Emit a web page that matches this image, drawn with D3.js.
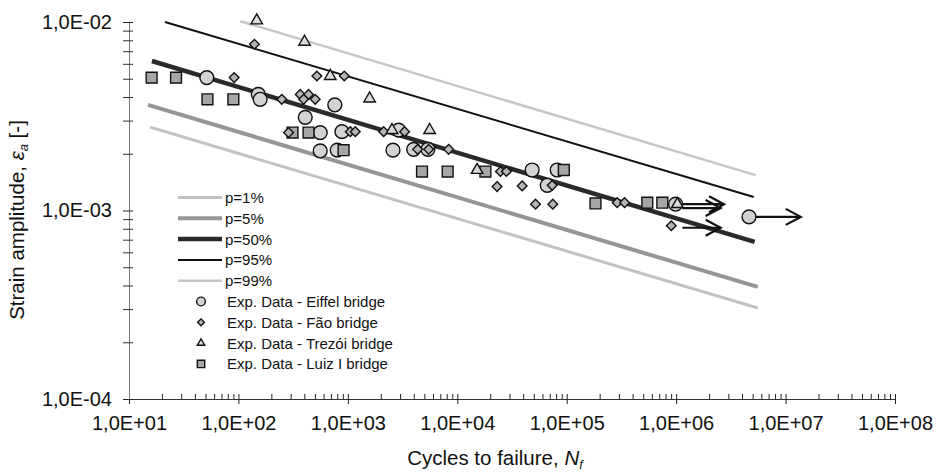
<!DOCTYPE html>
<html>
<head>
<meta charset="utf-8">
<script src="https://cdn.jsdelivr.net/npm/d3@7"></script>
<style>
  body { margin: 0; background: #fff; }
  svg text { font-family: "Liberation Sans", Arial, sans-serif; fill: #111; }
</style>
</head>
<body>
<svg id="chart" width="943" height="472"></svg>
<script>

// S-N quantile curves, read as end points [N, strain]
var curveNames = ["p=1%", "p=5%", "p=50%", "p=95%", "p=99%"];
var curveStart = [[15.6, 2.77e-3], [14.9, 3.63e-3], [16.2, 6.21e-3], [21.3, 1.0e-2], [104, 1.01e-2]];
var curveEnd   = [[5.57e6, 3.04e-4], [5.57e6, 3.93e-4], [5.22e6, 6.81e-4], [5.12e6, 1.18e-3], [5.33e6, 1.54e-3]];

// experimental points [N, strain]
var eiffelData = [[51.4, 5.07e-3], [152, 4.13e-3], [158, 3.89e-3], [760, 3.63e-3], [408, 3.12e-3],
  [559, 2.07e-3], [559, 2.59e-3], [883, 2.62e-3], [800, 2.09e-3], [2909, 2.67e-3], [2585, 2.09e-3],
  [3992, 2.11e-3], [5390, 2.11e-3], [48310, 1.64e-3], [81850, 1.64e-3], [66330, 1.36e-3],
  [988000, 1.08e-3], [4634000, 9.25e-4]];
var faoData = [[140, 7.62e-3], [91.4, 5.07e-3], [521, 5.17e-3], [927, 5.17e-3], [249, 3.89e-3],
  [367, 4.13e-3], [437, 4.13e-3], [394, 3.89e-3], [503, 3.89e-3], [287, 2.59e-3], [1052, 2.62e-3],
  [1169, 2.62e-3], [2124, 2.62e-3], [3300, 2.62e-3], [4341, 2.11e-3], [5474, 2.11e-3],
  [8341, 2.11e-3], [24780, 1.61e-3], [28110, 1.61e-3], [23110, 1.34e-3], [39170, 1.35e-3],
  [73660, 1.36e-3], [51870, 1.08e-3], [74610, 1.08e-3], [289500, 1.10e-3], [337900, 1.10e-3],
  [903000, 8.3e-4]];
var trezoiData = [[147, 1.0e-2], [402, 7.70e-3], [690, 5.07e-3], [1581, 3.85e-3], [2532, 2.62e-3],
  [5588, 2.62e-3], [15170, 1.61e-3], [1026000, 1.06e-3]];
var luizData = [[16.1, 5.07e-3], [26.9, 5.07e-3], [52.1, 3.89e-3], [89.9, 3.89e-3], [312, 2.59e-3],
  [437, 2.59e-3], [914, 2.09e-3], [4762, 1.61e-3], [8166, 1.61e-3], [18070, 1.61e-3],
  [94150, 1.64e-3], [183300, 1.09e-3], [545000, 1.10e-3], [747600, 1.10e-3]];

// run-out arrows [N from, N to, strain]
var runouts = [[1.14e6, 2.74e6, 1.08e-3], [1.14e6, 2.55e6, 1.03e-3], [1.14e6, 2.55e6, 8.1e-4],
  [5.33e6, 1.377e7, 9.25e-4]];

var seriesNames = ["Exp. Data - Eiffel bridge", "Exp. Data - Fão bridge",
  "Exp. Data - Trezói bridge", "Exp. Data - Luiz I bridge"];
var xTickValues = [1e1, 1e2, 1e3, 1e4, 1e5, 1e6, 1e7, 1e8];
var yTickValues = [1e-4, 1e-3, 1e-2];

var curveStyle = [
  {color: "#c2c2c2", width: 3},
  {color: "#959595", width: 4},
  {color: "#2a2a2a", width: 4.5},
  {color: "#111", width: 2},
  {color: "#c6c6c6", width: 2.5}
];
var markerFill = ["#d2d2d2", "#b5b5b5", "#dadada", "#a6a6a6"];

var svg = d3.select("#chart");

var x = d3.scaleLog().domain([1e1, 1e8]).range([129, 895]);
var y = d3.scaleLog().domain([1e-4, 1e-2]).range([399, 22]);

function sciLabel(v) {
  var e = Math.round(Math.log10(v));
  var s = Math.abs(e) < 10 ? "0" + Math.abs(e) : "" + Math.abs(e);
  return "1,0E" + (e < 0 ? "-" : "+") + s;
}

var minorX = x.ticks().filter(function(d) { return xTickValues.indexOf(d) < 0; });
var minorY = y.ticks().filter(function(d) { return yTickValues.map(function(v){return v.toPrecision(3);}).indexOf(d.toPrecision(3)) < 0; });

// x axis
var gx = svg.append("g")
    .attr("class", "axis axis--x")
    .attr("transform", "translate(0,399)")
    .call(d3.axisBottom(x).tickValues(xTickValues).tickFormat(sciLabel).tickSizeInner(5).tickSizeOuter(0).tickPadding(12));
gx.selectAll(".tick line").attr("y1", -5).attr("stroke", "#222");
gx.select(".domain").attr("stroke", "#333");
gx.selectAll("text").attr("font-size", 20).attr("font-family", "Liberation Sans, Arial, sans-serif").attr("fill", "#111");

svg.append("g")
    .attr("class", "axis axis--x-minor")
    .attr("transform", "translate(0,399)")
    .call(d3.axisBottom(x).tickValues(minorX).tickFormat("").tickSize(-5))
  .call(function(g) { g.select(".domain").remove(); })
  .selectAll(".tick line").attr("stroke", "#222");

// y axis
var gy = svg.append("g")
    .attr("class", "axis axis--y")
    .attr("transform", "translate(129,0)")
    .call(d3.axisLeft(y).tickValues(yTickValues).tickFormat(sciLabel).tickSizeInner(6).tickSizeOuter(0).tickPadding(11));
gy.selectAll(".tick line").attr("x1", 4).attr("stroke", "#222");
gy.select(".domain").attr("stroke", "#777");
gy.selectAll("text").attr("font-size", 20).attr("font-family", "Liberation Sans, Arial, sans-serif").attr("fill", "#111");

svg.append("g")
    .attr("class", "axis axis--y-minor")
    .attr("transform", "translate(129,0)")
    .call(d3.axisLeft(y).tickValues(minorY).tickFormat("").tickSize(6))
  .call(function(g) { g.select(".domain").remove(); })
  .selectAll(".tick line").attr("x1", 4).attr("stroke", "#333");

// axis titles
var xt = svg.append("text")
    .attr("x", 495).attr("y", 465)
    .attr("text-anchor", "middle")
    .attr("font-size", 20.5);
xt.append("tspan").text("Cycles to failure, ");
xt.append("tspan").attr("font-style", "italic").text("N");
xt.append("tspan").attr("font-style", "italic").attr("font-size", 13).attr("dy", 4).text("f");

var yt = svg.append("text")
    .attr("transform", "translate(24,220) rotate(-90)")
    .attr("text-anchor", "middle")
    .attr("font-size", 20.5);
yt.append("tspan").text("Strain amplitude, ");
yt.append("tspan").attr("font-style", "italic").text("ε");
yt.append("tspan").attr("font-style", "italic").attr("font-size", 13).attr("dy", 4).text("a");
yt.append("tspan").attr("dy", -4).text(" [-]");

// quantile curves
var line = d3.line()
    .x(function(d) { return x(d[0]); })
    .y(function(d) { return y(d[1]); });

svg.append("g").attr("class", "curves")
  .selectAll("path")
  .data(curveNames)
  .enter().append("path")
    .attr("d", function(d, i) { return line([curveStart[i], curveEnd[i]]); })
    .attr("fill", "none")
    .attr("stroke", function(d, i) { return curveStyle[i].color; })
    .attr("stroke-width", function(d, i) { return curveStyle[i].width; });

// markers
var symbols = [
  d3.symbol().type(d3.symbolCircle).size(150),
  d3.symbol().type(d3.symbolDiamond2).size(60),
  d3.symbol().type(d3.symbolTriangle2).size(95),
  d3.symbol().type(d3.symbolSquare2).size(150)
];
var allData = [eiffelData, faoData, trezoiData, luizData];
var drawOrder = [0, 3, 1, 2];

drawOrder.forEach(function(k) {
  svg.append("g").attr("class", "series series-" + k)
    .selectAll("path")
    .data(allData[k])
    .enter().append("path")
      .attr("transform", function(d) {
        var dy = k === 2 ? 1.5 : 0;
        return "translate(" + x(d[0]) + "," + (y(d[1]) - dy) + ")";
      })
      .attr("d", symbols[k])
      .attr("fill", markerFill[k])
      .attr("stroke", "#111")
      .attr("stroke-width", 1.4);
});

// run-out arrows
var arrows = svg.append("g").attr("class", "runouts")
  .selectAll("g")
  .data(runouts)
  .enter().append("g");
arrows.append("line")
    .attr("x1", function(d) { return x(d[0]); })
    .attr("x2", function(d) { return x(d[1]); })
    .attr("y1", function(d) { return y(d[2]); })
    .attr("y2", function(d) { return y(d[2]); })
    .attr("stroke", "#111").attr("stroke-width", 2.2);
arrows.append("path")
    .attr("d", function(d) {
      var ex = x(d[1]), ey = y(d[2]);
      return "M" + (ex - 15) + "," + (ey - 8) + "L" + ex + "," + ey + "L" + (ex - 15) + "," + (ey + 8);
    })
    .attr("fill", "none").attr("stroke", "#111").attr("stroke-width", 2.2);

// legend
var legend = svg.append("g").attr("class", "legend");
var rowH = 20.8, top0 = 197.5;

var lrow = legend.selectAll(".lrow")
  .data(curveNames)
  .enter().append("g")
    .attr("class", "lrow")
    .attr("transform", function(d, i) { return "translate(0," + (top0 + i * rowH) + ")"; });
lrow.append("line")
    .attr("x1", 178).attr("x2", 222)
    .attr("stroke", function(d, i) { return curveStyle[i].color; })
    .attr("stroke-width", function(d, i) { return curveStyle[i].width; });
lrow.append("text")
    .attr("x", 225).attr("dy", "0.36em")
    .attr("font-size", 15)
    .text(function(d) { return d; });

var smallSymbols = [
  d3.symbol().type(d3.symbolCircle).size(60),
  d3.symbol().type(d3.symbolDiamond2).size(30),
  d3.symbol().type(d3.symbolTriangle2).size(40),
  d3.symbol().type(d3.symbolSquare2).size(70)
];
var mrow = legend.selectAll(".mrow")
  .data(seriesNames)
  .enter().append("g")
    .attr("class", "mrow")
    .attr("transform", function(d, i) { return "translate(0," + (top0 + (i + 5) * rowH) + ")"; });
mrow.append("path")
    .attr("transform", "translate(201,0)")
    .attr("d", function(d, i) { return smallSymbols[i](); })
    .attr("fill", function(d, i) { return markerFill[i]; })
    .attr("stroke", "#111").attr("stroke-width", 1.4);
mrow.append("text")
    .attr("x", 227).attr("dy", "0.36em")
    .attr("font-size", 15)
    .text(function(d) { return d; });

</script>
</body>
</html>
